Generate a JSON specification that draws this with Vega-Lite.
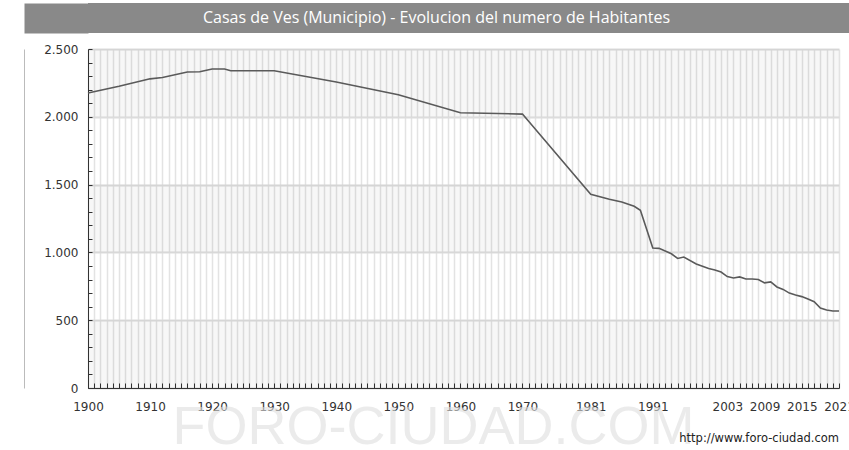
{
  "$schema": "https://vega.github.io/schema/vega-lite/v6.json",
  "padding": {"left": 24, "top": 3, "right": 0, "bottom": 0},
  "background": "white",
  "spacing": 10,
  "config": {"view": {"stroke": null}, "font": "DejaVu Sans"},
  "vconcat": [
    {
      "width": 761,
      "height": 30,
      "view": {"fill": "#898989", "stroke": null},
      "data": {"values": [{"t": "Casas de Ves (Municipio) - Evolucion del numero de Habitantes"}]},
      "mark": {"type": "text", "font": "Open Sans", "fontSize": 16, "color": "#ffffff", "baseline": "middle", "align": "center", "dx": -32},
      "encoding": {
        "text": {"field": "t", "type": "nominal"},
        "y": {
          "datum": 0.5, "type": "quantitative",
          "scale": {"domain": [0, 1], "nice": false},
          "axis": {
            "orient": "left", "offset": 32, "labels": false, "ticks": false, "grid": false, "title": null,
            "domainColor": "#898989", "domainWidth": 64, "domainCap": "butt"
          }
        }
      }
    },
    {
      "width": 751,
      "height": 339,
      "title": {"text": "http://www.foro-ciudad.com", "orient": "bottom", "anchor": "end", "frame": "group", "fontSize": 11.5, "fontWeight": "normal", "color": "#222222", "font": "DejaVu Sans", "offset": -21},
      "layer": [
        {
          "data": {"values": [{"lo": 0, "hi": 500}, {"lo": 1000, "hi": 1500}, {"lo": 2000, "hi": 2500}]},
          "mark": {"type": "rect", "color": "#000000", "opacity": 0.03},
          "encoding": {
            "y": {
              "field": "lo", "type": "quantitative",
              "scale": {"domain": [0, 2500], "nice": false, "zero": true},
              "axis": {
                "orient": "left",
                "values": [0,100,200,300,400,500,600,700,800,900,1000,1100,1200,1300,1400,1500,1600,1700,1800,1900,2000,2100,2200,2300,2400,2500],
                "labelExpr": "datum.value % 500 === 0 ? replace(format(datum.value, ','), ',', '.') : ''",
                "labelFontSize": 12, "labelColor": "#333333", "labelFont": "DejaVu Sans",
                "tickSize": -4, "tickColor": "#333333", "tickWidth": 1,
                "labelPadding": 14,
                "domainColor": "#333333", "domainWidth": 1,
                "grid": true, "gridColor": "#dcdcdc", "gridWidth": 2,
                "gridOpacity": {"condition": {"test": "datum.value % 500 === 0", "value": 1}, "value": 0},
                "title": null,
                "labelOverlap": false, "labelFlush": false, "labelBound": false
              }
            },
            "y2": {"field": "hi"}
          }
        },
        {
          "data": {"values": [
            {"year": 1900, "pop": 2176}, {"year": 1905, "pop": 2225}, {"year": 1910, "pop": 2280},
            {"year": 1912, "pop": 2290}, {"year": 1916, "pop": 2330}, {"year": 1918, "pop": 2332},
            {"year": 1920, "pop": 2352}, {"year": 1922, "pop": 2352}, {"year": 1923, "pop": 2340},
            {"year": 1930, "pop": 2340}, {"year": 1940, "pop": 2257}, {"year": 1950, "pop": 2163},
            {"year": 1960, "pop": 2030}, {"year": 1970, "pop": 2020}, {"year": 1981, "pop": 1428},
            {"year": 1984, "pop": 1392}, {"year": 1986, "pop": 1372}, {"year": 1988, "pop": 1340},
            {"year": 1989, "pop": 1310}, {"year": 1991, "pop": 1032}, {"year": 1992, "pop": 1030},
            {"year": 1994, "pop": 990}, {"year": 1995, "pop": 955}, {"year": 1996, "pop": 966},
            {"year": 1998, "pop": 914}, {"year": 2000, "pop": 882}, {"year": 2001, "pop": 870},
            {"year": 2002, "pop": 855}, {"year": 2003, "pop": 822}, {"year": 2004, "pop": 811},
            {"year": 2005, "pop": 819}, {"year": 2006, "pop": 804}, {"year": 2007, "pop": 804},
            {"year": 2008, "pop": 800}, {"year": 2009, "pop": 775}, {"year": 2010, "pop": 782},
            {"year": 2011, "pop": 745}, {"year": 2012, "pop": 727}, {"year": 2013, "pop": 700},
            {"year": 2014, "pop": 686}, {"year": 2015, "pop": 674}, {"year": 2016, "pop": 656},
            {"year": 2017, "pop": 636}, {"year": 2018, "pop": 590}, {"year": 2019, "pop": 575},
            {"year": 2020, "pop": 568}, {"year": 2021, "pop": 568}
          ]},
          "mark": {"type": "line", "color": "#5a5a5a", "strokeWidth": 1.6},
          "encoding": {
            "x": {
              "field": "year", "type": "quantitative",
              "scale": {"domain": [1900, 2021], "nice": false, "zero": false},
              "axis": {
                "values": [1900,1901,1902,1903,1904,1905,1906,1907,1908,1909,1910,1911,1912,1913,1914,1915,1916,1917,1918,1919,1920,1921,1922,1923,1924,1925,1926,1927,1928,1929,1930,1931,1932,1933,1934,1935,1936,1937,1938,1939,1940,1941,1942,1943,1944,1945,1946,1947,1948,1949,1950,1951,1952,1953,1954,1955,1956,1957,1958,1959,1960,1961,1962,1963,1964,1965,1966,1967,1968,1969,1970,1971,1972,1973,1974,1975,1976,1977,1978,1979,1980,1981,1982,1983,1984,1985,1986,1987,1988,1989,1990,1991,1992,1993,1994,1995,1996,1997,1998,1999,2000,2001,2002,2003,2004,2005,2006,2007,2008,2009,2010,2011,2012,2013,2014,2015,2016,2017,2018,2019,2020,2021],
                "labelExpr": "indexof([1900,1910,1920,1930,1940,1950,1960,1970,1981,1991,2003,2009,2015,2021], datum.value) >= 0 ? '' + datum.value : ''",
                "labelFontSize": 12, "labelColor": "#333333", "labelFont": "DejaVu Sans", "labelAngle": 0,
                "tickSize": -5, "tickColor": "#333333", "tickWidth": 1,
                "labelPadding": 18,
                "domainColor": "#333333", "domainWidth": 1,
                "grid": true, "gridColor": "#e3e3e3", "gridWidth": 1.5,
                "title": "FORO-CIUDAD.COM",
                "titleFont": "Liberation Sans", "titleFontSize": 54, "titleFontWeight": "normal",
                "titleColor": "#dddddd", "titleOpacity": 0.6,
                "titleX": 345, "titleY": 55, "titleAlign": "center", "titleBaseline": "alphabetic",
                "labelOverlap": false, "labelFlush": false, "labelBound": false
              }
            },
            "y": {
              "field": "pop", "type": "quantitative",
              "axis": {
                "orient": "left", "offset": 64,
                "labels": false, "ticks": false, "grid": false, "title": null,
                "domainColor": "#bbbbbb", "domainWidth": 1
              }
            }
          }
        }
      ],
      "resolve": {"axis": {"y": "independent"}}
    }
  ]
}
